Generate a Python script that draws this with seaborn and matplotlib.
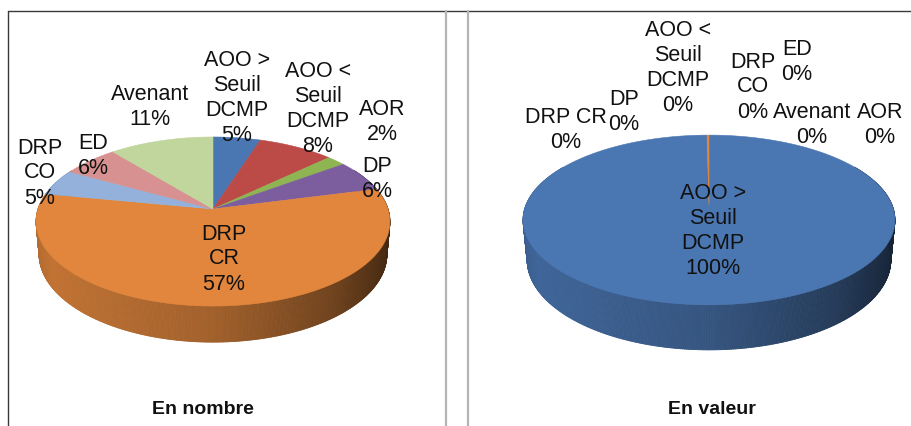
import numpy as np
import matplotlib
matplotlib.use("Agg")
import matplotlib.pyplot as plt
import seaborn as sns
from matplotlib.collections import PolyCollection
from matplotlib.patches import Polygon

sns.set_theme(style="white")
plt.rcParams["font.family"] = ["Liberation Sans", "DejaVu Sans"]

# Procurement procedures, share of contracts by number and by value
categories = ["AOO > Seuil DCMP", "AOO < Seuil DCMP", "AOR", "DP",
              "DRP CR", "DRP CO", "ED", "Avenant"]
share_by_number = [5, 8, 2, 6, 57, 5, 6, 11]
share_by_value = [99.8, 0, 0, 0, 0.2, 0, 0, 0]
panel_titles = ["En nombre", "En valeur"]

slice_colors = ["#4A76B2", "#BC4A47", "#8FB552", "#7C5E9F",
                "#E1863C", "#93B1DA", "#D79190", "#C1D69D"]

# Perspective camera for each pie (centre in pixels, elevation, distance, scale, thickness)
geometry = [
    dict(cx=213, cy=209, elev=28.2, dist=5.95, scale=1041, depth=0.214),
    dict(cx=709, cy=205, elev=26.7, dist=5.06, scale=926, depth=0.246),
]


def project(theta_deg, z, g):
    th = np.radians(theta_deg)
    s, c = np.sin(np.radians(g["elev"])), np.cos(np.radians(g["elev"]))
    X = np.cos(th)
    Y = np.sin(th)
    V = Y * s + z * c
    W = g["dist"] + Y * c - z * s
    return g["cx"] + g["scale"] * X / W, g["cy"] - g["scale"] * V / W


def shade(color, theta_deg):
    x = np.cos(np.radians(theta_deg))
    f = np.interp(x, [-1.0, -0.85, 0.0, 0.6, 1.0], [0.78, 0.86, 0.72, 0.50, 0.30])
    rgb = np.array(matplotlib.colors.to_rgb(color))
    return tuple(np.clip(rgb * f, 0, 1))


def draw_pie(ax, values, g):
    vals = np.asarray(values, dtype=float)
    frac = vals / vals.sum()
    cum = np.concatenate([[0.0], np.cumsum(frac)]) * 360.0
    bounds = 90.0 - cum

    # cylinder wall, shaded from left to right
    step = 0.5
    polys, cols = [], []
    for th in np.arange(150.0, 390.0, step):
        mid = th + step / 2
        a = (90.0 - mid) % 360.0
        idx = int(np.clip(np.searchsorted(cum, a, side="right") - 1, 0, len(vals) - 1))
        while frac[idx] == 0:
            idx = (idx + 1) % len(vals)
        ts = np.array([th, th + step])
        xt, yt = project(ts, 0.0, g)
        xb, yb = project(ts[::-1], -g["depth"], g)
        polys.append(np.column_stack([np.r_[xt, xb], np.r_[yt, yb]]))
        cols.append(shade(slice_colors[idx], mid))
    ax.add_collection(PolyCollection(polys, facecolors=cols, edgecolors=cols,
                                     linewidths=0.6, zorder=2))

    # top face, wedges meeting at the projected centre
    ax0, ay0 = g["cx"], g["cy"]
    for i in range(len(vals)):
        a0, a1 = bounds[i], bounds[i + 1]
        if a0 == a1:
            continue
        n = max(3, int(abs(a0 - a1) * 2))
        ts = np.linspace(a0, a1, n)
        xs, ys = project(ts, 0.0, g)
        pts = np.column_stack([np.r_[ax0, xs], np.r_[ay0, ys]])
        ax.add_patch(Polygon(pts, closed=True, facecolor=slice_colors[i],
                             edgecolor=slice_colors[i], linewidth=0.4, zorder=3))


def label_text(name, keep):
    if name in keep:
        return name
    name = name.replace("AOO > ", "AOO >\n").replace("AOO < ", "AOO <\n")
    out = []
    for p in name.split("\n"):
        if p.startswith("AOO"):
            out.append(p)
        else:
            out.extend(p.split(" "))
    return "\n".join(out)


label_pos = [
    {"AOO > Seuil DCMP": (237, 98), "AOO < Seuil DCMP": (318, 109),
     "AOR": (382, 122), "DP": (377, 179), "DRP CR": (224, 259),
     "DRP CO": (40, 173), "ED": (93, 156), "Avenant": (150, 107)},
    {"AOO > Seuil DCMP": (713, 231), "AOO < Seuil DCMP": (678, 68),
     "AOR": (880, 125), "DP": (624, 112), "DRP CR": (566, 130),
     "DRP CO": (753, 87), "ED": (797, 62), "Avenant": (812, 125)},
]
unwrapped = [set(), {"DRP CR"}]

fig = plt.figure(figsize=(9.11, 4.26), dpi=100)
ax = fig.add_axes([0, 0, 1, 1])
ax.set_xlim(0, 911)
ax.set_ylim(426, 0)
ax.axis("off")

# panel frames
ax.plot([8, 911], [10.5, 10.5], color="#3a3a3a", lw=1.0, zorder=1)
ax.plot([8, 8], [10.5, 426], color="#3a3a3a", lw=1.0, zorder=1)
for xv in (446, 468):
    ax.plot([xv, xv], [10.5, 426], color="#b4b4b4", lw=1.6, zorder=1)

for k, (values, g, title) in enumerate(zip([share_by_number, share_by_value],
                                            geometry, panel_titles)):
    draw_pie(ax, values, g)
    total = float(sum(values))
    for name, v in zip(categories, values):
        x, y = label_pos[k][name]
        pct = v / total * 100
        ax.text(x, y, f"{label_text(name, unwrapped[k])}\n{pct:.0f}%",
                ha="center", va="center", multialignment="center",
                fontsize=15.5, linespacing=1.25, color="#111111", zorder=5)
    ax.text(g["cx"] - 10 if k == 0 else g["cx"] + 3, 410, title, ha="center",
            va="center", fontsize=14, fontweight="bold", color="#111111", zorder=5)

fig.savefig("out.png", dpi=100, facecolor="white")
